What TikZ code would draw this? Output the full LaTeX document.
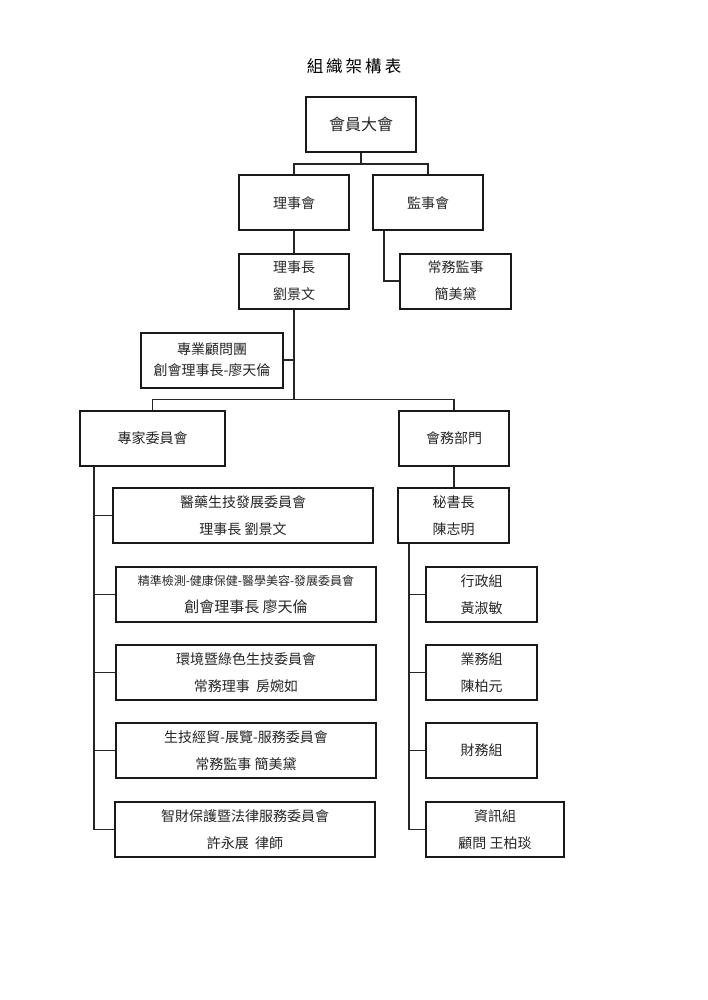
\documentclass[tikz,border=0pt]{standalone}
\usepackage{fontspec}
\setmainfont{Noto Sans CJK TC}
\begin{document}
\begin{tikzpicture}[x=1pt,y=-1pt,
  box/.style={draw=black!90, line width=2pt, rectangle, inner sep=0pt, align=center,
    text=black!85, font=\fontsize{14}{27}\selectfont, minimum width=110pt, minimum height=55pt},
  wide/.style={box, minimum width=260pt},
  conn/.style={draw=black!85, line width=1.5pt}]
\useasboundingbox[fill=white] (0,0) rectangle (707,1000);

\node[font=\fontsize{16.5}{16.5}\selectfont, text=black] (title) at (354,66)
  {組\hspace{3pt}織\hspace{3pt}架\hspace{3pt}構\hspace{3pt}表};

\node[box, font=\fontsize{16}{16}\selectfont] (hyh) at (361,124.5) {會員大會};
\node[box] (lsh) at (294,203) {理事會};
\node[box] (jsh) at (428,203) {監事會};
\node[box] (lsz) at (294,281) {理事長\\劉景文};
\node[box, minimum width=111pt] (cwjs) at (455.5,281) {常務監事\\簡美黛};
\node[box, minimum width=142pt, font=\fontsize{14}{21}\selectfont] (zygw) at (212,360)
  {專業顧問團\\創會理事長-廖天倫};
\node[box, minimum width=145pt] (zjwy) at (152.5,438) {專家委員會};
\node[box] (hwbm) at (454,438) {會務部門};

\node[wide] (c1) at (243,515.5) {醫藥生技發展委員會\\理事長 劉景文};
\node[wide] (c2) at (246,594.5)
  {{\fontsize{12}{23}\selectfont 精準檢測-健康保健-醫學美容-發展委員會}\\{\fontsize{15}{23}\selectfont 創會理事長 廖天倫}};
\node[wide] (c3) at (246,672.5) {環境暨綠色生技委員會\\常務理事\ \ 房婉如};
\node[wide] (c4) at (246,750.5) {生技經貿-展覽-服務委員會\\常務監事 簡美黛};
\node[wide] (c5) at (245,829.5) {智財保護暨法律服務委員會\\許永展\ \ 律師};

\node[box, minimum width=111pt] (msz) at (453.5,515.5) {秘書長\\陳志明};
\node[box, minimum width=111pt] (d1) at (481.5,594.5) {行政組\\黃淑敏};
\node[box, minimum width=111pt] (d2) at (481.5,672.5) {業務組\\陳柏元};
\node[box, minimum width=111pt] (d3) at (481.5,750.5) {財務組};
\node[box, minimum width=138pt] (d4) at (495,829.5) {資訊組\\顧問 王柏琰};

% top connectors
\coordinate (j1) at ([yshift=-11pt]hyh.south);
\draw[conn] (hyh.south) -- (j1);
\draw[conn] (j1) -| (lsh.north);
\draw[conn] (j1) -| (jsh.north);
\draw[conn] (lsh.south) -- (lsz.north);
\draw[conn] ([xshift=-44pt]jsh.south) |- (cwjs.west);

% middle
\coordinate (j2) at ([yshift=-90pt]lsz.south);
\draw[conn] (lsz.south) -- (j2);
\draw[conn] (zygw.east) -- (zygw.east -| lsz.south);
\draw[conn] (j2) -| (zjwy.north);
\draw[conn] (j2) -| (hwbm.north);

% left trunk
\coordinate (t1) at ([xshift=15pt]zjwy.south west);
\draw[conn] (t1) |- (c5.west);
\draw[conn] (c1.west) -- (c1.west -| t1);
\draw[conn] (c2.west) -- (c2.west -| t1);
\draw[conn] (c3.west) -- (c3.west -| t1);
\draw[conn] (c4.west) -- (c4.west -| t1);

% right trunk
\draw[conn] (hwbm.south) -- (hwbm.south |- msz.north);
\coordinate (t2) at ([xshift=12pt]msz.south west);
\draw[conn] (t2) |- (d4.west);
\draw[conn] (d1.west) -- (d1.west -| t2);
\draw[conn] (d2.west) -- (d2.west -| t2);
\draw[conn] (d3.west) -- (d3.west -| t2);
\end{tikzpicture}
\end{document}
